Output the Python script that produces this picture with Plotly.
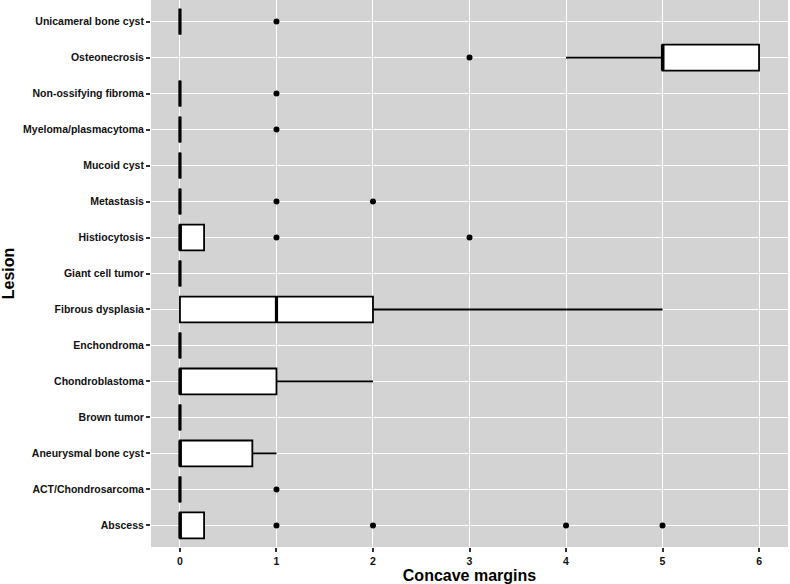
import plotly.graph_objects as go

lesions = ["Abscess", "ACT/Chondrosarcoma", "Aneurysmal bone cyst", "Brown tumor",
           "Chondroblastoma", "Enchondroma", "Fibrous dysplasia", "Giant cell tumor",
           "Histiocytosis", "Metastasis", "Mucoid cyst", "Myeloma/plasmacytoma",
           "Non-ossifying fibroma", "Osteonecrosis", "Unicameral bone cyst"]
q1 = [0, 0, 0, 0, 0, 0, 0, 0, 0, 0, 0, 0, 0, 5, 0]
median = [0, 0, 0, 0, 0, 0, 1, 0, 0, 0, 0, 0, 0, 5, 0]
q3 = [0.25, 0, 0.75, 0, 1, 0, 2, 0, 0.25, 0, 0, 0, 0, 6, 0]
lowerfence = [0, 0, 0, 0, 0, 0, 0, 0, 0, 0, 0, 0, 0, 4, 0]
upperfence = [0, 0, 1, 0, 2, 0, 5, 0, 0, 0, 0, 0, 0, 6, 0]
outliers = {
    "Abscess": [1, 2, 4, 5],
    "ACT/Chondrosarcoma": [1],
    "Histiocytosis": [1, 3],
    "Metastasis": [1, 2],
    "Myeloma/plasmacytoma": [1],
    "Non-ossifying fibroma": [1],
    "Osteonecrosis": [3],
    "Unicameral bone cyst": [1],
}

pos = list(range(1, len(lesions) + 1))
bw = 0.72

fig = go.Figure()
fig.add_trace(go.Box(
    y=pos, q1=q1, median=median, q3=q3, lowerfence=lowerfence, upperfence=upperfence,
    orientation="h", width=bw, whiskerwidth=0, fillcolor="white",
    line=dict(color="black", width=1.8), boxpoints=False, showlegend=False,
    hoverinfo="skip"))

# thicker median segments (ggplot fatten)
mx, my = [], []
for p, m in zip(pos, median):
    mx += [m, m, None]
    my += [p - bw / 2, p + bw / 2, None]
fig.add_trace(go.Scatter(x=mx, y=my, mode="lines", line=dict(color="black", width=3.2),
                         showlegend=False, hoverinfo="skip"))

ox, oy = [], []
for name, vals in outliers.items():
    for v in vals:
        ox.append(v)
        oy.append(lesions.index(name) + 1)
fig.add_trace(go.Scatter(x=ox, y=oy, mode="markers",
                         marker=dict(color="black", size=6), showlegend=False))

tickfont = dict(family="Liberation Sans", size=10.5, color="#111111", weight="bold")
titlefont = dict(family="Liberation Sans", size=16, color="black", weight="bold")

fig.update_layout(
    width=790, height=584,
    margin=dict(l=151, r=2, t=0, b=37),
    plot_bgcolor="#d3d3d3", paper_bgcolor="white",
    xaxis=dict(range=[-0.3, 6.3], tickvals=[0, 1, 2, 3, 4, 5, 6], showgrid=True,
               gridcolor="white", gridwidth=1.2, zeroline=False, ticks="outside",
               ticklen=4, tickcolor="#333333", tickwidth=1.5, tickfont=tickfont,
               title=dict(text="Concave margins", font=titlefont, standoff=4)),
    yaxis=dict(range=[0.4, 15.6], tickvals=pos, ticktext=lesions, showgrid=True,
               gridcolor="white", gridwidth=1.2, zeroline=False, ticks="outside",
               ticklen=4, tickcolor="#333333", tickwidth=1.5, tickfont=tickfont,
               title=dict(text="Lesion", font=titlefont, standoff=6)),
)

fig.write_html("out.html")
